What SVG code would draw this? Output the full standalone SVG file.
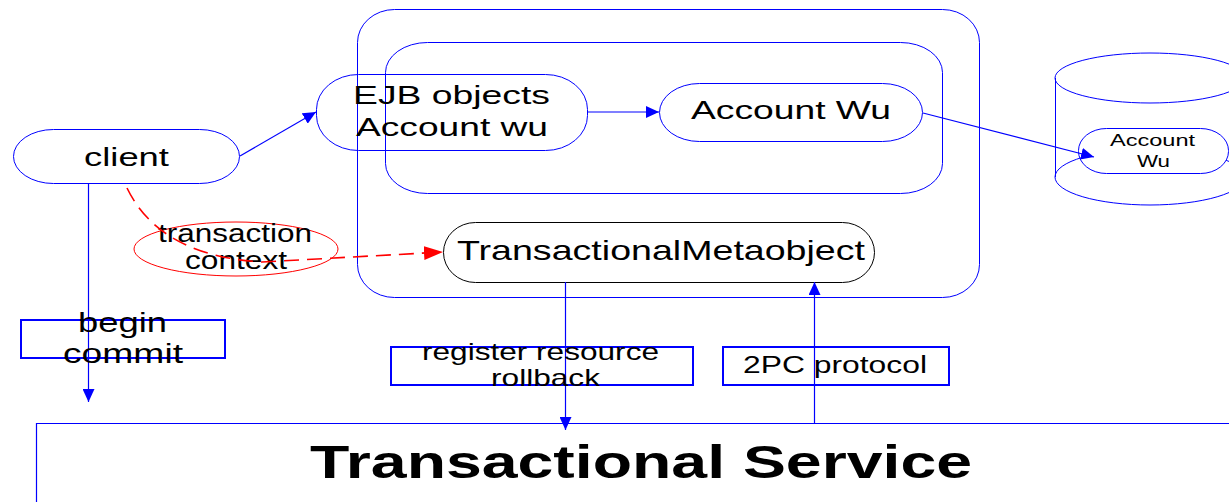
<svg xmlns="http://www.w3.org/2000/svg" width="1229" height="502" viewBox="0 0 1229 502">
  <style>
    text { font-family: "Liberation Sans", Arial, sans-serif; fill: #000; }
    .lbl { font-size: 26px; }
    .blue { fill: none; stroke: #0000ff; stroke-width: 1; }
    .node { fill: #fff; stroke: #0000ff; stroke-width: 1; }
    .box { fill: #fff; stroke: #0000ff; stroke-width: 2; }
    .conn { fill: none; stroke: #0000ff; stroke-width: 1.2; }
  </style>
  <defs>
    <marker id="arrowBlue" markerUnits="userSpaceOnUse" markerWidth="14" markerHeight="12" refX="13" refY="6" orient="auto">
      <path d="M0,0 L13,6 L0,12 Z" fill="#0000ff"/>
    </marker>
    <marker id="arrowRed" markerUnits="userSpaceOnUse" markerWidth="20" markerHeight="16" refX="19" refY="8" orient="auto">
      <path d="M0,1 L19,8 L0,15 Z" fill="#ff0000"/>
    </marker>
  </defs>

  <!-- container frames -->
  <g id="container-outer">
    <rect x="357.5" y="9.5" width="622" height="288" rx="37" ry="33" class="blue"/>
  </g>
  <g id="container-inner">
    <rect x="385.5" y="42.5" width="557" height="151" rx="42" ry="30" class="blue"/>
  </g>

  <!-- database cylinder -->
  <g id="database">
    <ellipse cx="1150" cy="78" rx="95" ry="25" class="blue"/>
    <path d="M1055.5,78 L1055.5,177" class="blue" stroke-width="2"/>
    <ellipse cx="1150" cy="177" rx="95" ry="28" class="blue"/>
  </g>

  <!-- nodes -->
  <g id="client">
    <rect x="13.5" y="129.5" width="226" height="54" rx="40" ry="27" class="node"/>
    <text x="84" y="166" font-size="25" textLength="85" lengthAdjust="spacingAndGlyphs">client</text>
  </g>
  <g id="ejb-objects">
    <rect x="316.5" y="74.5" width="271" height="76" rx="42" ry="35" class="blue"/>
    <text x="353" y="104" class="lbl" textLength="197" lengthAdjust="spacingAndGlyphs">EJB objects</text>
    <text x="356" y="136" class="lbl" textLength="192" lengthAdjust="spacingAndGlyphs">Account wu</text>
  </g>
  <g id="account-wu">
    <rect x="659.5" y="83.5" width="263" height="58" rx="40" ry="29" class="node"/>
    <text x="691" y="119" class="lbl" textLength="200" lengthAdjust="spacingAndGlyphs">Account Wu</text>
  </g>
  <g id="account-wu-record">
    <rect x="1078.5" y="128.5" width="150" height="45" rx="28" ry="22" class="node"/>
    <text x="1110" y="146" font-size="16" textLength="85" lengthAdjust="spacingAndGlyphs">Account</text>
    <text x="1137" y="167" font-size="16" textLength="33" lengthAdjust="spacingAndGlyphs">Wu</text>
  </g>
  <g id="transactional-metaobject">
    <rect x="443.5" y="222.5" width="431" height="60" rx="32" ry="30" fill="#fff" stroke="#000" stroke-width="1"/>
    <text x="457" y="260" font-size="28" textLength="408" lengthAdjust="spacingAndGlyphs">TransactionalMetaobject</text>
  </g>
  <g id="transaction-context">
    <ellipse cx="236" cy="249" rx="102" ry="27" fill="none" stroke="#ff0000" stroke-width="1"/>
    <text x="158" y="242" font-size="25" textLength="154" lengthAdjust="spacingAndGlyphs">transaction</text>
    <text x="185" y="269" font-size="25" textLength="102" lengthAdjust="spacingAndGlyphs">context</text>
  </g>
  <g id="transactional-service">
    <path d="M36.5,502 L36.5,423.5 L1229,423.5" class="conn"/>
    <text x="310" y="478" font-size="46" font-weight="bold" textLength="662" lengthAdjust="spacingAndGlyphs">Transactional Service</text>
  </g>

  <!-- connectors -->
  <g id="connectors">
    <line x1="240" y1="156" x2="316" y2="112" class="conn" marker-end="url(#arrowBlue)"/>
    <line x1="588" y1="112" x2="659" y2="112" class="conn" marker-end="url(#arrowBlue)"/>
    <line x1="923" y1="113" x2="1094" y2="157" class="conn" marker-end="url(#arrowBlue)"/>
    <line x1="88.5" y1="183" x2="88.5" y2="402" class="conn" stroke-width="1.6" marker-end="url(#arrowBlue)"/>
    <line x1="565.5" y1="282" x2="565.5" y2="430" class="conn" marker-end="url(#arrowBlue)"/>
    <line x1="814.5" y1="423" x2="814.5" y2="282" class="conn" stroke-width="1.6" marker-end="url(#arrowBlue)"/>
    <path d="M127,188 Q160,256 262,262 L443,252" fill="none" stroke="#ff0000" stroke-width="1.6" stroke-dasharray="15,8" marker-end="url(#arrowRed)"/>
  </g>

  <!-- edge labels -->
  <g id="label-begin-commit">
    <rect x="21" y="320" width="204" height="38" fill="none" stroke="#0000ff" stroke-width="2"/>
    <text x="78" y="332" font-size="27" textLength="89" lengthAdjust="spacingAndGlyphs">begin</text>
    <text x="63" y="363" font-size="27" textLength="120" lengthAdjust="spacingAndGlyphs">commit</text>
  </g>
  <g id="label-register-rollback">
    <rect x="391" y="347" width="302" height="38" fill="none" stroke="#0000ff" stroke-width="2"/>
    <text x="422" y="360" font-size="24" textLength="237" lengthAdjust="spacingAndGlyphs">register resource</text>
    <text x="491" y="386" font-size="24" textLength="109" lengthAdjust="spacingAndGlyphs">rollback</text>
  </g>
  <g id="label-2pc">
    <rect x="723" y="347" width="226" height="38" fill="none" stroke="#0000ff" stroke-width="2"/>
    <text x="743" y="373" font-size="23" textLength="184" lengthAdjust="spacingAndGlyphs">2PC protocol</text>
  </g>
</svg>
